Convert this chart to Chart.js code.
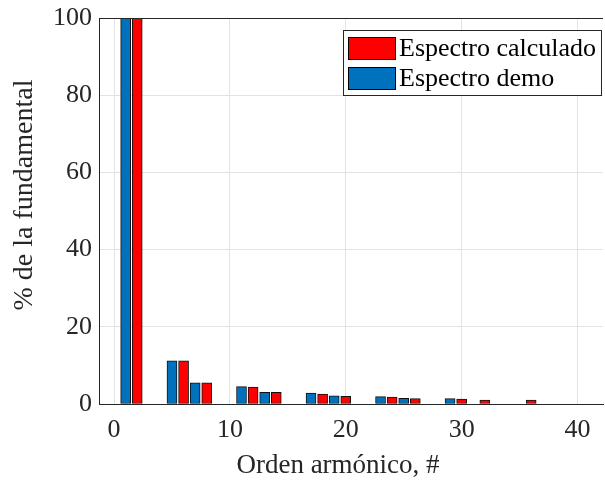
<!DOCTYPE html>
<html>
<head>
<meta charset="utf-8">
<script src="https://cdn.jsdelivr.net/npm/chart.js@4/dist/chart.umd.min.js"></script>
<style>
html,body{margin:0;padding:0;background:#fff;}
#wrap{width:605px;height:484px;}
</style>
</head>
<body>
<div id="wrap"><canvas id="c" width="605" height="484"></canvas></div>
<script>
// Harmonic orders and values (% of fundamental)
const harmonics = [1, 5, 7, 11, 13, 17, 19, 23, 25, 29, 31, 35];
const demoValues = [100, 11.2, 5.5, 4.5, 3.0, 2.8, 2.1, 1.9, 1.5, 1.4, 0, 0];
const calcValues = [100, 11.2, 5.5, 4.4, 3.0, 2.6, 2.0, 1.8, 1.4, 1.3, 1.0, 1.0];
const calcOffset = 1; // calculated spectrum drawn next to the demo bar
const xTicks = [0, 10, 20, 30, 40];
const yTicks = [0, 20, 40, 60, 80, 100];
const labelCalc = 'Espectro calculado';
const labelDemo = 'Espectro demo';
const xTitle = 'Orden armónico, #';
const yTitle = '% de la fundamental';

const FONT = "'Liberation Serif', 'Times New Roman', serif";
const TXT = '#262626';

const demoData = harmonics.map((h, i) => ({x: h, y: demoValues[i]}));
const calcData = harmonics.map((h, i) => ({x: h + calcOffset, y: calcValues[i]}));

const decorPlugin = {
  id: 'decor',
  afterDraw(chart) {
    const ctx = chart.ctx;
    const ca = chart.chartArea;
    ctx.save();
    // top border of the axes box
    ctx.strokeStyle = TXT;
    ctx.lineWidth = 1;
    ctx.beginPath();
    ctx.moveTo(ca.left, ca.top + 0.5);
    ctx.lineTo(ca.right, ca.top + 0.5);
    ctx.stroke();
    // axis titles
    ctx.fillStyle = TXT;
    ctx.textAlign = 'center';
    ctx.textBaseline = 'middle';
    ctx.font = '27px ' + FONT;
    ctx.fillText(xTitle, 338, 466);
    ctx.save();
    ctx.translate(25, 195);
    ctx.rotate(-Math.PI / 2);
    ctx.font = '28px ' + FONT;
    ctx.fillText(yTitle, 0, 0);
    ctx.restore();
    // legend
    const bx = 343.5, by = 30.5, bw = 258, bh = 65;
    ctx.fillStyle = '#fff';
    ctx.fillRect(bx, by, bw, bh);
    ctx.strokeStyle = TXT;
    ctx.strokeRect(bx, by, bw, bh);
    const items = [
      {label: chart.data.datasets[1].label, color: chart.data.datasets[1].backgroundColor, y: 37},
      {label: chart.data.datasets[0].label, color: chart.data.datasets[0].backgroundColor, y: 67}
    ];
    ctx.font = '26px ' + FONT;
    ctx.textAlign = 'left';
    items.forEach(it => {
      ctx.fillStyle = it.color;
      ctx.fillRect(348.5, it.y + 0.5, 47, 22);
      ctx.strokeStyle = '#000';
      ctx.strokeRect(348.5, it.y + 0.5, 47, 22);
      ctx.fillStyle = '#000';
      ctx.fillText(it.label, 399, it.y + 12);
    });
    ctx.restore();
  }
};

new Chart(document.getElementById('c'), {
  type: 'bar',
  data: {
    datasets: [
      {label: labelDemo, data: demoData, backgroundColor: '#0072BD', borderColor: '#111', borderWidth: 1,
       grouped: false, barThickness: 10, borderSkipped: false},
      {label: labelCalc, data: calcData, backgroundColor: '#FF0000', borderColor: '#111', borderWidth: 1,
       grouped: false, barThickness: 10, borderSkipped: false}
    ]
  },
  options: {
    responsive: false,
    animation: false,
    devicePixelRatio: 1,
    layout: {padding: {top: 18, right: 2, left: 0, bottom: 0}},
    plugins: {legend: {display: false}, tooltip: {enabled: false}},
    scales: {
      x: {
        type: 'linear', min: -1.3, max: 42.2, offset: false,
        afterBuildTicks(s) { s.ticks = xTicks.map(v => ({value: v})); },
        afterFit(s) { s.height = 80; s.paddingLeft = 0; s.paddingRight = 0; },
        ticks: {color: TXT, font: {family: FONT, size: 26}, padding: 11, maxRotation: 0},
        grid: {color: '#e3e3e3', drawTicks: false, offset: false},
        border: {color: TXT, width: 1},
        title: {display: false, text: xTitle}
      },
      y: {
        min: 0, max: 100,
        afterBuildTicks(s) { s.ticks = yTicks.map(v => ({value: v})); },
        afterFit(s) { s.width = 99; s.paddingTop = 0; s.paddingBottom = 0; },
        ticks: {color: TXT, font: {family: FONT, size: 26}, padding: 7},
        grid: {color: '#e3e3e3', drawTicks: false},
        border: {color: TXT, width: 1},
        title: {display: false, text: yTitle}
      }
    }
  },
  plugins: [decorPlugin]
});
</script>
</body>
</html>
